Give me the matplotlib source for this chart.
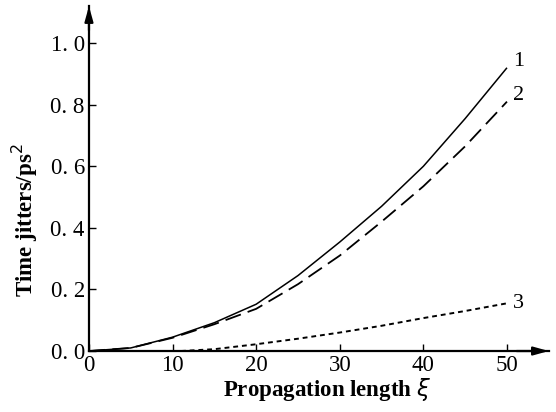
import matplotlib

matplotlib.use("Agg")
import matplotlib.pyplot as plt

# values
length = [0, 5, 10, 15, 20, 25, 30, 35, 40, 45, 50]
jitter_1 = [0.0, 0.010, 0.045, 0.092, 0.152, 0.245, 0.354, 0.470, 0.600, 0.755, 0.920]
jitter_2 = [0.0, 0.010, 0.043, 0.087, 0.137, 0.217, 0.310, 0.420, 0.535, 0.665, 0.810]
length_3 = [11, 15, 20, 25, 30, 35, 40, 45, 50]
jitter_3 = [0.0, 0.006, 0.022, 0.040, 0.060, 0.082, 0.107, 0.130, 0.155]
curve_labels = ["1", "2", "3"]

x_ticks = [0, 10, 20, 30, 40, 50]
y_ticks = [0.0, 0.2, 0.4, 0.6, 0.8, 1.0]
y_ticklabels = ["0. 0", "0. 2", "0. 4", "0. 6", "0. 8", "1. 0"]

plt.rcParams["font.family"] = ["Liberation Serif", "DejaVu Serif"]

fig = plt.figure(figsize=(5.56, 4.12), dpi=100)
ax = fig.add_axes([0.160, 0.148, 0.827, 0.837])

ax.plot(length, jitter_1, color="black", lw=1.1, solid_capstyle="butt")
ax.plot(length, jitter_2, color="black", lw=1.3, dashes=(9, 4))
ax.plot(length_3, jitter_3, color="black", lw=1.4, dashes=(2.5, 2))

ends = [(length[-1], jitter_1[-1]), (length[-1], jitter_2[-1]), (length_3[-1], jitter_3[-1])]
offsets = [0.02, 0.02, 0.0]
for lab, (x, y), dy in zip(curve_labels, ends, offsets):
    ax.text(x + 1.4, y + dy, lab, fontsize=16, ha="center", va="center")

ax.set_xlim(0, 55)
ax.set_ylim(0, 1.12)
ax.spines["top"].set_visible(False)
ax.spines["right"].set_visible(False)
ax.spines["left"].set_linewidth(1.6)
ax.spines["bottom"].set_linewidth(1.6)

# arrow heads on the axes
ax.annotate("", xy=(1.0, 0), xytext=(0.93, 0), xycoords="axes fraction",
            arrowprops={"arrowstyle": "-|>,head_length=0.9,head_width=0.25",
                        "color": "black", "lw": 1.6, "shrinkA": 0, "shrinkB": 0})
ax.annotate("", xy=(0, 1.0), xytext=(0, 0.93), xycoords="axes fraction",
            arrowprops={"arrowstyle": "-|>,head_length=0.9,head_width=0.25",
                        "color": "black", "lw": 1.6, "shrinkA": 0, "shrinkB": 0})

ax.set_xticks(x_ticks)
ax.set_yticks(y_ticks)
ax.set_yticklabels(y_ticklabels)
ax.tick_params(direction="in", length=5, width=1, labelsize=16.5, pad=3)

ax.set_xlabel("Propagation length $\\xi$", fontsize=16.5, fontweight="bold")
ax.set_ylabel("Time jitters/ps$^2$", fontsize=16.5, fontweight="bold")
ax.xaxis.set_label_coords(0.517, -0.113)
ax.yaxis.set_label_coords(-0.139, 0.38)
ax.xaxis.label.set_va("center")
ax.yaxis.label.set_va("center")

fig.savefig("out.png", dpi=100, facecolor="white")
